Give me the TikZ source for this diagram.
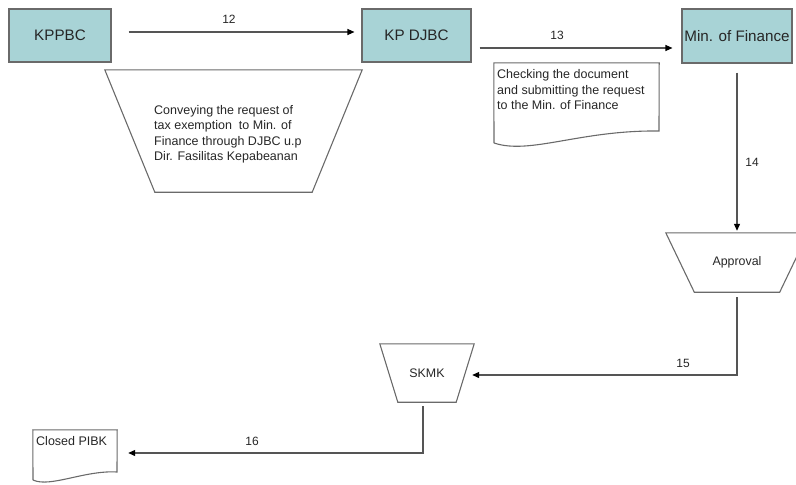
\documentclass[tikz,border=0pt]{standalone}
\usepackage{fontspec}
\setmainfont{Liberation Sans}
\usetikzlibrary{arrows.meta}
\definecolor{boxfill}{HTML}{A8D3D6}
\definecolor{edge}{HTML}{6A6A6A}
\definecolor{wire}{HTML}{555555}
\definecolor{ink}{HTML}{262626}
\begin{document}
\begin{tikzpicture}[x=1pt,y=-1pt,
  procbox/.style={draw=edge, line width=1.1pt, fill=boxfill, minimum height=53pt, inner sep=0pt,
    font=\fontsize{15.2}{17}\selectfont, text=ink},
  frame/.style={minimum width=#1, inner sep=0pt, font=\fontsize{12.4}{15}\selectfont, text=ink},
  outline/.style={draw=edge, line width=1.1pt},
  conn/.style={draw=wire, line width=1.1pt, -{Triangle[length=7pt,width=6pt,color=black]}},
  lbl/.style={font=\fontsize{12}{14}\selectfont, text=ink, inner sep=0pt},
  body/.style={font=\fontsize{12.5}{15.5}\selectfont, align=left, text=ink, inner sep=0pt}
]
\useasboundingbox (0,0) rectangle (796,485);

% process boxes
\node[procbox, minimum width=102pt] (kppbc) at (60,35.5) {KPPBC};
\node[procbox, minimum width=109pt] (kpdjbc) at (416.5,35.5) {KP DJBC};
\node[procbox, minimum width=110pt, minimum height=54pt] (minfin) at (737,36) {Min. of Finance};

% big inverted trapezoid
\node[frame=257pt, minimum height=122pt] (conv) at (233.5,131) {};
\draw[outline] (conv.north west) -- (conv.north east) -- ([xshift=-50pt]conv.south east)
  -- ([xshift=50pt]conv.south west) -- cycle;
\node[body, anchor=west] (convtxt) at (154,134.5)
  {Conveying the request of\\tax exemption\ \ to Min. of\\Finance through DJBC u.p\\Dir. Fasilitas Kepabeanan};

% document 13
\node[frame=165pt, minimum height=80pt] (doc13) at (576.5,103) {};
\draw[outline] (494,143) -- (doc13.north west) -- (doc13.north east) -- (659,131)
  .. controls (580,130) and (530,155) .. (494,143);
\node[body, anchor=west] (doc13txt) at (497,90)
  {Checking the document\\and submitting the request\\to the Min. of Finance};

% Approval trapezoid
\node[frame=142pt, minimum height=59pt] (appr) at (737,262.5) {Approval};
\draw[outline] (appr.north west) -- (appr.north east) -- ([xshift=-28.5pt]appr.south east)
  -- ([xshift=28.5pt]appr.south west) -- cycle;

% SKMK trapezoid
\node[frame=94pt, minimum height=58pt] (skmk) at (427,373) {SKMK};
\draw[outline] (skmk.north west) -- (skmk.north east) -- ([xshift=-18pt]skmk.south east)
  -- ([xshift=18pt]skmk.south west) -- cycle;

% Closed PIBK document
\node[frame=84pt, minimum height=50pt] (pibk) at (75,455) {};
\draw[outline] (33,480) -- (pibk.north west) -- (pibk.north east) -- (117,472)
  .. controls (85,470) and (50,488) .. (33,480);
\node[body, anchor=west] (pibktxt) at (36,441) {Closed PIBK};

% connectors
\draw[conn] ([xshift=17pt,yshift=3.5pt]kppbc.east) -- ([xshift=-7pt,yshift=3.5pt]kpdjbc.west);
\node[lbl] (l12) at (229,19) {12};
\draw[conn] ([xshift=8pt,yshift=-12.5pt]kpdjbc.east) -- ([xshift=-9pt,yshift=-12pt]minfin.west);
\node[lbl] (l13) at (557,35) {13};
\draw[conn] ([yshift=-9pt]minfin.south) -- ([yshift=2pt]appr.north);
\node[lbl] (l14) at (752,162) {14};
\draw[conn] ([yshift=-5pt]appr.south) |- ([xshift=-2pt,yshift=-2pt]skmk.east);
\node[lbl] (l15) at (683,363) {15};
\draw[conn] ([xshift=-4pt,yshift=-4pt]skmk.south) |- ([xshift=11pt,yshift=2pt]pibk.east);
\node[lbl] (l16) at (252,441) {16};
\end{tikzpicture}
\end{document}
